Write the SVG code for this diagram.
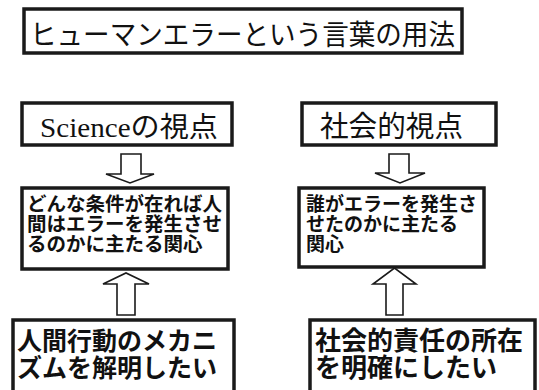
<svg xmlns="http://www.w3.org/2000/svg" width="539" height="390" viewBox="0 0 539 390">
<style>
.box{fill:#fff;stroke:#1a1a1a;stroke-width:3.5}
.arr{fill:#fff;stroke:#1a1a1a;stroke-width:1.6;stroke-linejoin:miter}
.t{font-family:"Noto Sans CJK JP","Noto Sans",sans-serif;fill:#111}
.b{font-family:"Noto Sans CJK JP","Noto Sans",sans-serif;font-weight:bold;fill:#111}
.s{font-family:"Liberation Serif","Noto Sans CJK JP",serif;fill:#111}
</style>
<rect width="539" height="390" fill="#fff"/>
<g id="title">
<rect class="box" x="24" y="9" width="438" height="44"/>
<text class="t" x="30" y="45" font-size="28" textLength="425" lengthAdjust="spacingAndGlyphs">ヒューマンエラーという言葉の用法</text>
</g>
<g id="science">
<rect class="box" x="22" y="103" width="210" height="42"/>
<text class="s" x="40" y="137" font-size="28" textLength="178" lengthAdjust="spacingAndGlyphs">Scienceの視点</text>
</g>
<g id="social">
<rect class="box" x="302" y="103" width="194" height="42"/>
<text class="t" x="320" y="137" font-size="29" textLength="143" lengthAdjust="spacingAndGlyphs">社会的視点</text>
</g>
<g id="science-interest">
<rect class="box" x="22" y="188" width="206" height="81" stroke-width="3"/>
<text class="b" font-size="19.5"><tspan x="27" y="211">どんな条件が在れば人</tspan><tspan x="27" y="231">間はエラーを発生させ</tspan><tspan x="27" y="251">るのかに主たる関心</tspan></text>
</g>
<g id="social-interest">
<rect class="box" x="299" y="188" width="185" height="79" stroke-width="3"/>
<text class="b" font-size="19"><tspan x="306" y="211">誰がエラーを発生さ</tspan><tspan x="306" y="231">せたのかに主たる</tspan><tspan x="306" y="251">関心</tspan></text>
</g>
<g id="mechanism">
<rect class="box" x="13" y="320" width="221" height="90" stroke-width="3"/>
<text class="b" font-size="25"><tspan x="17" y="350">人間行動のメカニ</tspan><tspan x="17" y="377">ズムを解明したい</tspan></text>
</g>
<g id="responsibility">
<rect class="box" x="310" y="320" width="225" height="90" stroke-width="3"/>
<text class="b" font-size="26"><tspan x="315" y="350">社会的責任の所在</tspan><tspan x="315" y="377">を明確にしたい</tspan></text>
</g>
<g id="connectors">
<polygon class="arr" points="121,154 141,154 141,174 154,174 130,183 106,174 121,174"/>
<polygon class="arr" points="389,154 409,154 409,173 425,173 400,183 375,173 389,173"/>
<polygon class="arr" points="117,315 135,315 135,284 149,284 126,273 103,284 117,284"/>
<polygon class="arr" points="386,315 403,315 403,284 416,284 394.5,268 373,284 386,284"/>
</g>
</svg>
